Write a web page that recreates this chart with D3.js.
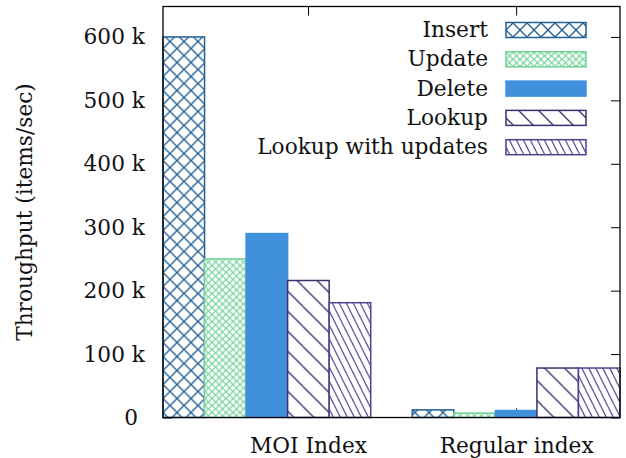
<!DOCTYPE html>
<html>
<head>
<meta charset="utf-8">
<script src="https://cdn.jsdelivr.net/npm/d3@7"></script>
<style>
  body { margin: 0; background: #fff; }
</style>
</head>
<body>
<div class="chart"></div>
<script>
// chart data (items/sec)
var groups = ["MOI Index", "Regular index"];
var seriesNames = ["Insert", "Update", "Delete", "Lookup", "Lookup with updates"];
var moiValues = [600000, 250000, 290000, 216000, 181000];
var regularValues = [12000, 7000, 11000, 78000, 78000];
var yTicks = [0, 100000, 200000, 300000, 400000, 500000, 600000];
// where gnuplot put the two x tic labels (cluster units)
var xTickAt = [0.165, 1];

var svgWidth = 626;
var svgHeight = 458;
var margin = { top: 6.5, right: 6, bottom: 40.5, left: 163 };
var width = svgWidth - margin.left - margin.right;
var height = svgHeight - margin.top - margin.bottom;

var colors = ["#225f92", "#6fd296", "#4090dc", "#3b2f70", "#4d4290"];
var fontFamily = "DejaVu Serif";
var fontSize = 21.7;

var svg = d3.select(".chart").append("svg")
  .attr("width", svgWidth)
  .attr("height", svgHeight)
  .attr("font-family", fontFamily);

// fill patterns
var defs = svg.append("defs");
function hatch(id, w, h, paths, color, sw) {
  var p = defs.append("pattern")
    .attr("id", id)
    .attr("patternUnits", "userSpaceOnUse")
    .attr("width", w).attr("height", h);
  p.append("rect").attr("width", w).attr("height", h).attr("fill", "#fff");
  paths.forEach(function(d) {
    p.append("path").attr("d", d).attr("stroke", color)
      .attr("stroke-width", sw).attr("fill", "none");
  });
}
hatch("p0", 14, 14, ["M0,0L14,14", "M14,0L0,14"], colors[0], 1.3);
hatch("p1", 7, 7, ["M0,0L7,7", "M7,0L0,7"], colors[1], 1.2);
hatch("p3", 20, 20, ["M0,0L20,20", "M-10,10L0,20", "M10,-10L30,10"], colors[3], 1.3);
hatch("p4", 7, 14, ["M0,0L7,14", "M-3.5,7L0,14", "M3.5,-7L10.5,7"], colors[4], 1.2);
var fills = ["url(#p0)", "url(#p1)", colors[2], "url(#p3)", "url(#p4)"];

var g = svg.append("g")
  .attr("transform", "translate(" + margin.left + "," + margin.top + ")");

var x = d3.scaleLinear().domain([-2.5 / 6, 1 + 2.5 / 6]).range([0, width]);
var y = d3.scaleLinear().domain([0, 648000]).range([height, 0]);

function yFmt(d) { return d === 0 ? "0\u00a0" : (d / 1000) + " k"; }

// axes first so the bars cover the inner ticks
var yAxis = g.append("g")
  .call(d3.axisLeft(y).tickValues(yTicks).tickFormat(yFmt).tickSizeInner(-9).tickSizeOuter(0).tickPadding(18));
g.append("g").attr("transform", "translate(" + width + ",0)")
  .call(d3.axisRight(y).tickValues(yTicks).tickFormat("").tickSizeInner(-9).tickSizeOuter(0));
var xAxis = g.append("g").attr("transform", "translate(0," + height + ")")
  .call(d3.axisBottom(x).tickValues(xTickAt).tickFormat(function(d, i) { return groups[i]; })
    .tickSizeInner(-9).tickSizeOuter(0));
g.append("g")
  .call(d3.axisTop(x).tickValues(xTickAt).tickFormat("").tickSizeInner(-9).tickSizeOuter(0));

g.selectAll(".domain").remove();
g.selectAll(".tick line").attr("stroke", "#000").attr("stroke-width", 1);
yAxis.selectAll(".tick text").attr("dy", "0.32em");
xAxis.selectAll(".tick text").attr("y", 35).attr("dy", 0);

// bars
var table = [];
[moiValues, regularValues].forEach(function(vals, gi) {
  vals.forEach(function(v, si) {
    table.push({ group: gi, series: si, value: v });
  });
});
var bw = 1 / 6;
g.selectAll(".bar").data(table).enter().append("rect")
  .attr("class", "bar")
  .attr("x", function(d) { return x(d.group + (d.series - 2) * bw - bw / 2); })
  .attr("width", x(bw) - x(0))
  .attr("y", function(d) { return y(d.value); })
  .attr("height", function(d) { return y(0) - y(d.value); })
  .attr("fill", function(d) { return fills[d.series]; })
  .attr("stroke", function(d) { return colors[d.series]; })
  .attr("stroke-width", 1.5);

// border
g.append("rect").attr("width", width).attr("height", height)
  .attr("fill", "none").attr("stroke", "#000").attr("stroke-width", 1.3);

// legend
var legend = g.append("g").attr("transform", "translate(" + (506 - margin.left) + "," + (30 - margin.top) + ")");
seriesNames.forEach(function(name, i) {
  var row = legend.append("g").attr("transform", "translate(0," + (i * 29.3) + ")");
  row.append("rect").attr("x", 0).attr("y", -7.5).attr("width", 80).attr("height", 15)
    .attr("fill", fills[i]).attr("stroke", colors[i]).attr("stroke-width", 1.5);
  row.append("text").attr("x", -18).attr("y", 0).attr("dy", "0.32em")
    .attr("text-anchor", "end").text(name);
});

// y axis title
svg.append("text")
  .attr("transform", "translate(32,212) rotate(-90)")
  .attr("text-anchor", "middle")
  .text("Throughput (items/sec)");

svg.selectAll("text")
  .attr("font-family", fontFamily)
  .attr("font-size", fontSize)
  .attr("fill", "#111");
</script>
</body>
</html>
